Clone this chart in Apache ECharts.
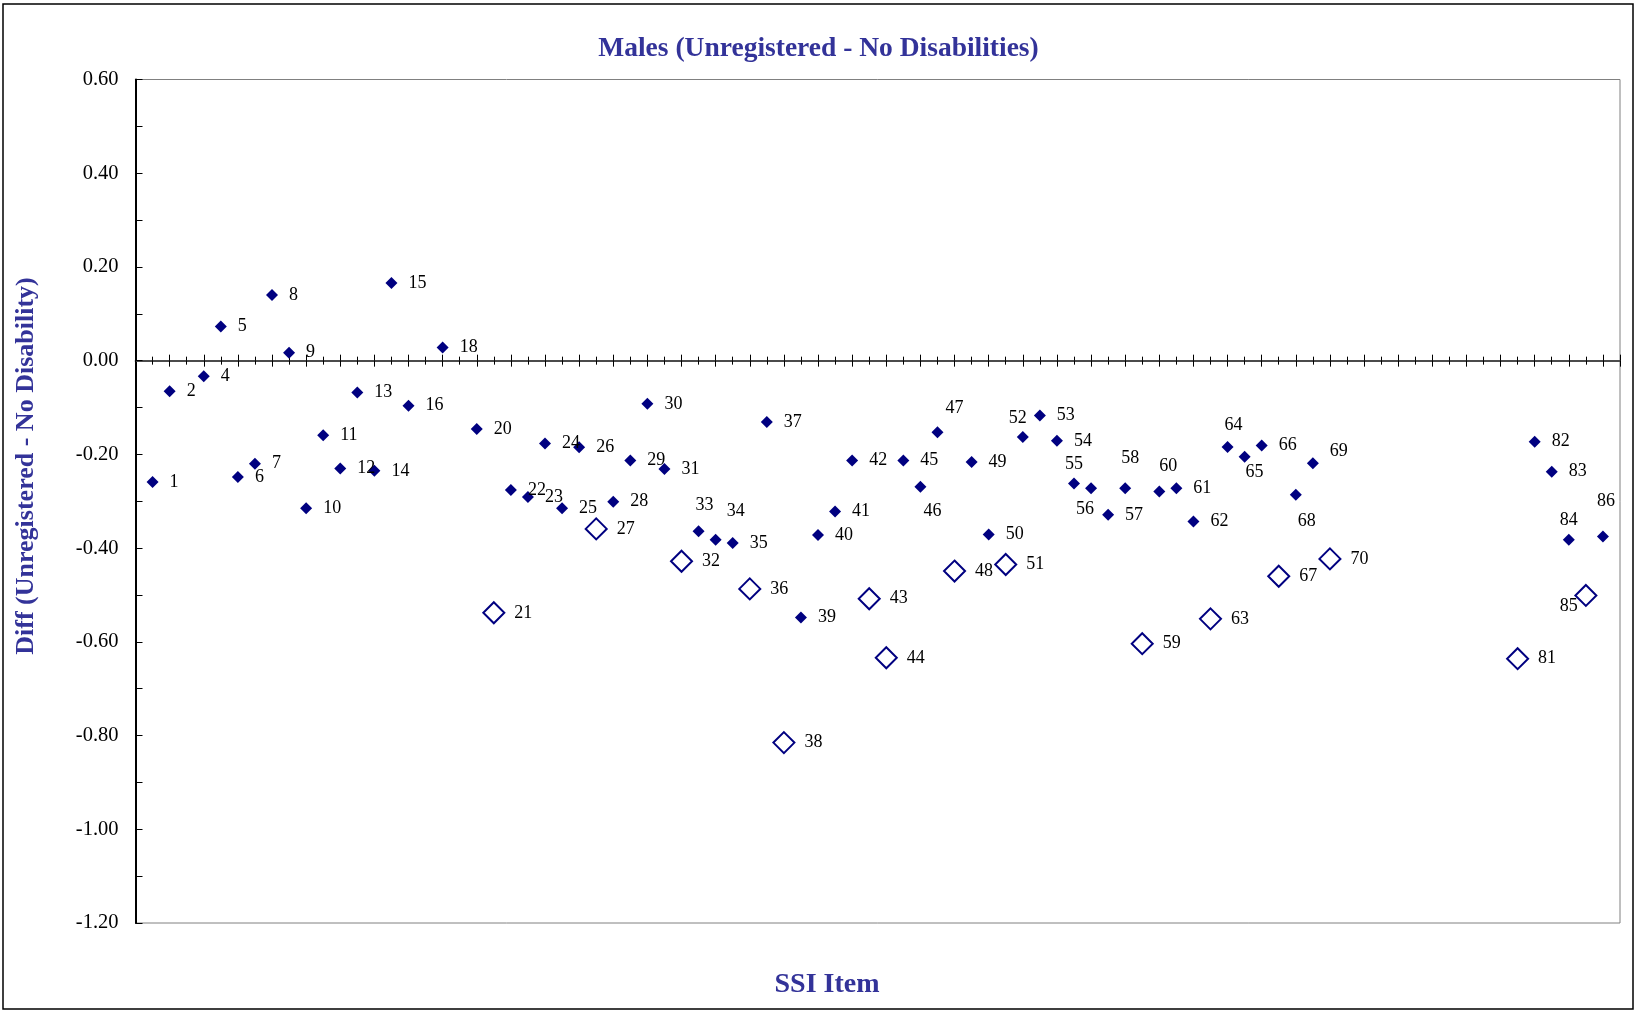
<!DOCTYPE html>
<html>
<head>
<meta charset="utf-8">
<script src="https://cdn.jsdelivr.net/npm/echarts@6/dist/echarts.min.js"></script>
<style>
html,body{margin:0;padding:0;background:#fff;}
#chart{width:1637px;height:1013px;}
</style>
</head>
<body>
<div id="chart"></div>
<script>
// ---- data ----
const items = [1,2,4,5,6,7,8,9,10,11,12,13,14,15,16,18,20,21,22,23,24,25,26,27,28,29,30,31,32,33,34,35,36,37,38,39,40,41,42,43,44,45,46,47,48,49,50,51,52,53,54,55,56,57,58,59,60,61,62,63,64,65,66,67,68,69,70,81,82,83,84,85,86];
const values = [-0.259,-0.065,-0.033,0.073,-0.248,-0.220,0.140,0.017,-0.315,-0.159,-0.230,-0.068,-0.235,0.166,-0.096,0.028,-0.146,-0.538,-0.276,-0.291,-0.177,-0.315,-0.185,-0.359,-0.301,-0.213,-0.092,-0.231,-0.428,-0.364,-0.382,-0.389,-0.487,-0.131,-0.815,-0.548,-0.372,-0.322,-0.213,-0.508,-0.634,-0.213,-0.269,-0.153,-0.449,-0.216,-0.371,-0.435,-0.163,-0.117,-0.171,-0.262,-0.272,-0.329,-0.272,-0.604,-0.279,-0.272,-0.343,-0.551,-0.184,-0.205,-0.181,-0.460,-0.286,-0.219,-0.423,-0.636,-0.173,-0.237,-0.382,-0.501,-0.375];
const hollowItems = [21,27,32,36,38,43,44,48,51,59,63,67,70,81,85];
const yTicks = [-1.2,-1.0,-0.8,-0.6,-0.4,-0.2,0,0.2,0.4,0.6];

// label placement tweaks (style only)
const labelOffsets = {
  33:[6,-26],34:[20,-28],46:[12,25],47:[17,-24],52:[-5,-19],55:[0,-19],56:[-6,21],
  58:[5,-30],60:[9,-25],64:[6,-22],65:[10,16],68:[11,27],69:[26,-12],84:[0,-19],
  86:[3,-35],85:[-17,11]
};

const NAVY = '#000080';
const TXT = '#333399';
const SERIF = '"Liberation Serif","Times New Roman",serif';

function buildPoint(i, v){
  const p = {value:[i, v]};
  const off = labelOffsets[i];
  if (off) {
    p.label = {position:'inside', offset: off, distance:0};
  }
  return p;
}
const filledData = [], hollowData = [];
items.forEach((it, k) => {
  const h = hollowItems.indexOf(it) >= 0;
  (h ? hollowData : filledData).push(buildPoint(it, values[k]));
});

const labelBase = {
  show:true, formatter: p => String(p.value[0]),
  color:'#000', fontFamily:SERIF, fontSize:18
};

const chart = echarts.init(document.getElementById('chart'), null, {renderer:'canvas'});
const xCommon = {
  type:'value', min:0, max:87, interval:2,
  axisLine:{show:true, onZero:true, onZeroAxisIndex:0, lineStyle:{color:'#404040', width:1.5}},
  axisTick:{show:true, length:6, lineStyle:{color:'#000', width:1}},
  minorTick:{show:true, splitNumber:2, length:4, lineStyle:{color:'#000', width:1}},
  axisLabel:{show:false}, splitLine:{show:false}
};
chart.setOption({
  backgroundColor:'#fff',
  animation:false,
  title:{
    text:'Males (Unregistered - No Disabilities)',
    left:'center', top:30,
    textStyle:{fontFamily:SERIF, fontWeight:'bold', fontSize:27.5, color:TXT}
  },
  grid:{left:135.5, right:17, top:79.5, bottom:90, show:true, borderColor:'#808080', borderWidth:1, backgroundColor:'#fff'},
  xAxis:[
    Object.assign({position:'bottom'}, xCommon),
    Object.assign({position:'top'}, xCommon)
  ],
  yAxis:{
    type:'value', min:-1.2, max:0.6, interval:0.2, position:'left',
    axisLine:{show:true, onZero:false, lineStyle:{color:'#000', width:2}},
    axisTick:{show:true, inside:true, length:7, lineStyle:{color:'#000', width:1}},
    minorTick:{show:true, splitNumber:2, length:7, lineStyle:{color:'#000', width:1}},
    axisLabel:{show:true, margin:17, color:'#000', fontFamily:SERIF, fontSize:20.5,
      formatter: v => { const t = yTicks.find(x => Math.abs(x - v) < 1e-6); return (t === undefined ? v : t).toFixed(2); }},
    splitLine:{show:false}
  },
  graphic:[
    {type:'rect', shape:{x:3, y:4, width:1630, height:1005}, style:{fill:null, stroke:'#000', lineWidth:1.5}, silent:true, z:-1},
    {type:'text', x:827, y:985, style:{text:'SSI Item', fontFamily:SERIF, fontWeight:'bold', fontSize:28, fill:TXT, textAlign:'center', textVerticalAlign:'middle'}},
    {type:'text', x:26, y:466, rotation:Math.PI/2, style:{text:'Diff (Unregistered - No Disability)', fontFamily:SERIF, fontWeight:'bold', fontSize:26, fill:TXT, textAlign:'center', textVerticalAlign:'middle'}}
  ],
  series:[
    {
      type:'scatter', xAxisIndex:0, yAxisIndex:0, symbol:'diamond', symbolSize:12,
      itemStyle:{color:NAVY, opacity:1},
      label:Object.assign({position:'right', distance:11}, labelBase),
      data:filledData
    },
    {
      type:'scatter', xAxisIndex:0, yAxisIndex:0, symbol:'diamond', symbolSize:21,
      itemStyle:{color:'#fff', borderColor:NAVY, borderWidth:2, opacity:1},
      label:Object.assign({position:'right', distance:9}, labelBase),
      data:hollowData
    }
  ]
});
</script>
</body>
</html>
